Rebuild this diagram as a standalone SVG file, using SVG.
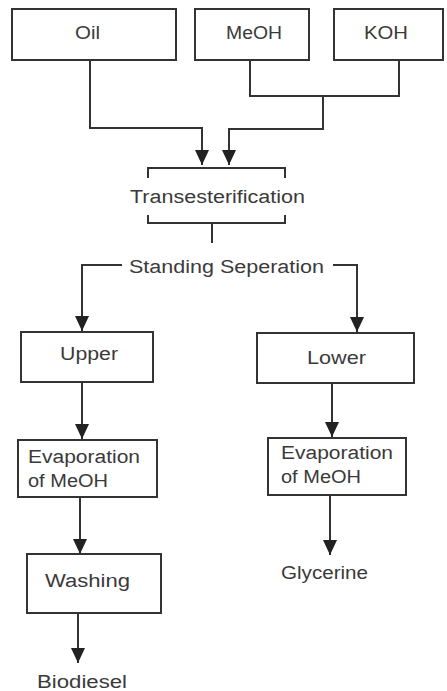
<svg xmlns="http://www.w3.org/2000/svg" width="447" height="691" viewBox="0 0 447 691">
<style>
.box{fill:#fff;stroke:#333;stroke-width:2}
.ln{fill:none;stroke:#333;stroke-width:2}
.t{font-family:"Liberation Sans",Arial,sans-serif;font-size:18px;fill:#3a3a3a}
</style>
<defs>
<marker id="ah" markerUnits="userSpaceOnUse" markerWidth="16" markerHeight="14" refX="15" refY="7" orient="auto">
<path d="M0,0 L15,7 L0,14 z" fill="#222"/>
</marker>
</defs>
<rect width="447" height="691" fill="#fff"/>
<g id="connectors">
<path class="ln" d="M90,60 V128 H202 V165" marker-end="url(#ah)"/>
<path class="ln" d="M250,60 V96 H399 V60"/>
<path class="ln" d="M323,96 V129 H229 V165" marker-end="url(#ah)"/>
<path class="ln" d="M148,178 V168 H285 V178"/>
<path class="ln" d="M148,215 V223 H285 V215"/>
<path class="ln" d="M212,223 V243"/>
<path class="ln" d="M122,265 H82 V331" marker-end="url(#ah)"/>
<path class="ln" d="M333,265 H357 V332" marker-end="url(#ah)"/>
<path class="ln" d="M82,382 V439" marker-end="url(#ah)"/>
<path class="ln" d="M332,383 V437" marker-end="url(#ah)"/>
<path class="ln" d="M80,497 V554" marker-end="url(#ah)"/>
<path class="ln" d="M330,495 V555" marker-end="url(#ah)"/>
<path class="ln" d="M78,613 V663" marker-end="url(#ah)"/>
</g>
<g id="oil"><rect class="box" x="12" y="9" width="164" height="51"/><text class="t" x="75" y="39" textLength="25" lengthAdjust="spacingAndGlyphs">Oil</text></g>
<g id="meoh"><rect class="box" x="195" y="9" width="114" height="51"/><text class="t" x="226" y="39" textLength="56" lengthAdjust="spacingAndGlyphs">MeOH</text></g>
<g id="koh"><rect class="box" x="334" y="9" width="109" height="51"/><text class="t" x="364" y="39" textLength="44" lengthAdjust="spacingAndGlyphs">KOH</text></g>
<g id="transesterification"><text class="t" x="130" y="203" textLength="175" lengthAdjust="spacingAndGlyphs">Transesterification</text></g>
<g id="standing"><text class="t" x="129" y="273" textLength="195" lengthAdjust="spacingAndGlyphs">Standing Seperation</text></g>
<g id="upper"><rect class="box" x="21" y="332" width="132" height="50"/><text class="t" x="60" y="360" textLength="58" lengthAdjust="spacingAndGlyphs">Upper</text></g>
<g id="lower"><rect class="box" x="257" y="333" width="157" height="50"/><text class="t" x="307" y="364" textLength="59" lengthAdjust="spacingAndGlyphs">Lower</text></g>
<g id="evap-left"><rect class="box" x="18" y="440" width="139" height="57"/><text class="t" x="28" y="463" textLength="112" lengthAdjust="spacingAndGlyphs">Evaporation</text><text class="t" x="28" y="487" textLength="80" lengthAdjust="spacingAndGlyphs">of MeOH</text></g>
<g id="evap-right"><rect class="box" x="268" y="438" width="138" height="57"/><text class="t" x="281" y="459" textLength="112" lengthAdjust="spacingAndGlyphs">Evaporation</text><text class="t" x="281" y="483" textLength="80" lengthAdjust="spacingAndGlyphs">of MeOH</text></g>
<g id="washing"><rect class="box" x="27" y="554" width="134" height="59"/><text class="t" x="45" y="587" textLength="85" lengthAdjust="spacingAndGlyphs">Washing</text></g>
<g id="glycerine"><text class="t" x="281" y="579" textLength="87" lengthAdjust="spacingAndGlyphs">Glycerine</text></g>
<g id="biodiesel"><text class="t" x="37" y="688" textLength="90" lengthAdjust="spacingAndGlyphs">Biodiesel</text></g>
</svg>
